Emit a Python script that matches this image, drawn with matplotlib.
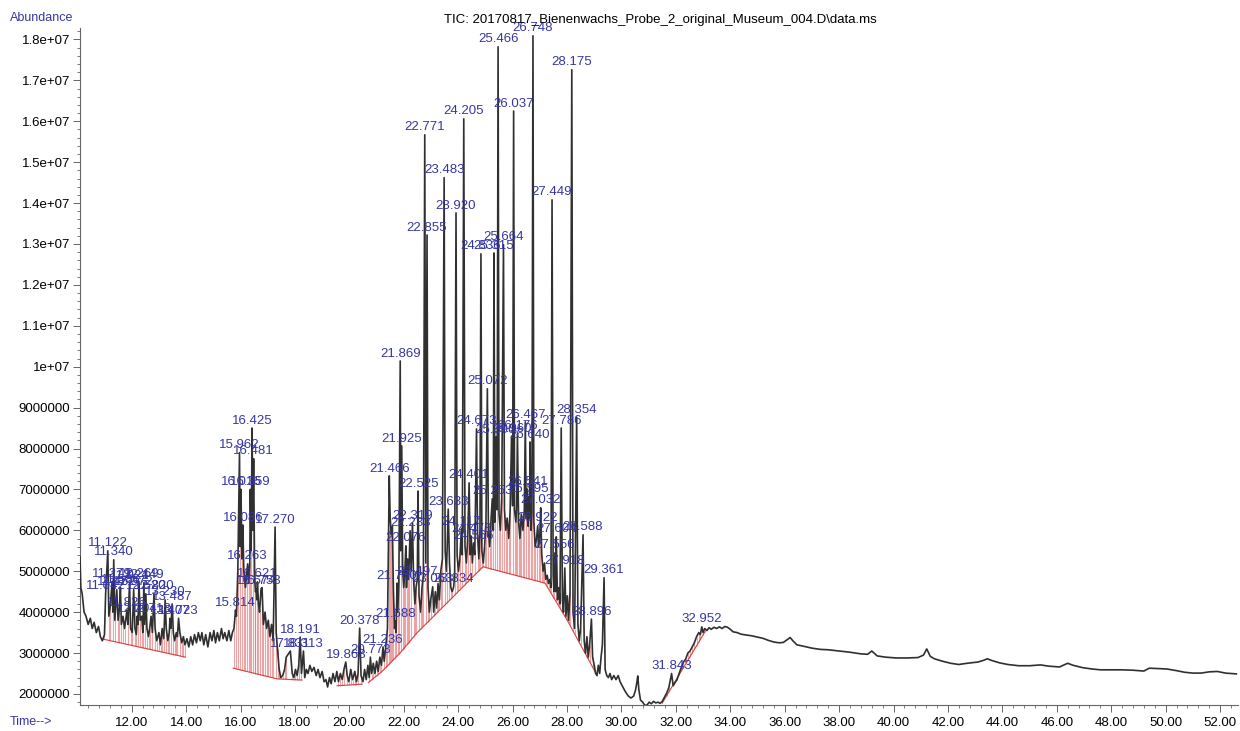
import numpy as np
import matplotlib
matplotlib.use('Agg')
import matplotlib.pyplot as plt
from matplotlib.ticker import MultipleLocator, FixedLocator

plt.rcParams['font.family'] = ['Liberation Sans', 'DejaVu Sans']

# background trace (min, abundance in 1e6)
trace_t = [10.10, 10.13, 10.18, 10.25, 10.32, 10.40, 10.48, 10.55, 10.62, 10.70, 10.78, 10.85, 10.92, 11.00,
           11.16, 11.22, 11.31, 11.38, 11.50, 11.55, 11.62, 11.68, 11.74, 11.86, 11.96, 12.02, 12.12, 12.17,
           12.23, 12.31, 12.37, 12.41, 12.48, 12.56, 12.62, 12.66, 12.76, 12.86, 12.92, 13.00, 13.06, 13.12,
           13.18, 13.27, 13.33, 13.38, 13.44, 13.53, 13.58, 13.64, 13.68, 13.77, 13.84, 13.90, 13.96, 14.03,
           14.10, 14.17, 14.24, 14.31, 14.38, 14.45, 14.52, 14.58, 14.65, 14.72, 14.80, 14.88, 14.95, 15.02,
           15.08, 15.15, 15.22, 15.30, 15.36, 15.42, 15.50, 15.57, 15.64, 15.70, 15.76, 15.85, 15.90, 15.99,
           16.05, 16.12, 16.18, 16.22, 16.30, 16.34, 16.39, 16.45, 16.52, 16.55, 16.60, 16.66, 16.70, 16.79,
           16.84, 16.90, 16.96, 17.02, 17.08, 17.14, 17.20, 17.31, 17.36, 17.42, 17.48, 17.55, 17.62, 17.68,
           17.90, 17.96, 18.02, 18.08, 18.14, 18.24, 18.36, 18.42, 18.48, 18.55, 18.62, 18.70, 18.78, 18.85,
           18.92, 19.00, 19.07, 19.14, 19.20, 19.27, 19.33, 19.40, 19.47, 19.54, 19.60, 19.67, 19.74, 19.80,
           19.92, 19.98, 20.05, 20.12, 20.20, 20.26, 20.32, 20.43, 20.50, 20.56, 20.62, 20.68, 20.73, 20.82,
           20.88, 20.94, 21.00, 21.06, 21.12, 21.18, 21.28, 21.33, 21.40, 21.44, 21.50, 21.54, 21.58, 21.62,
           21.66, 21.72, 21.78, 21.82, 21.89, 21.96, 22.00, 22.04, 22.10, 22.14, 22.18, 22.27, 22.36, 22.41,
           22.45, 22.56, 22.62, 22.67, 22.72, 22.81, 22.89, 22.94, 22.99, 23.10, 23.16, 23.21, 23.26, 23.31,
           23.36, 23.42, 23.52, 23.57, 23.68, 23.73, 23.78, 23.87, 23.96, 24.01, 24.06, 24.15, 24.25, 24.30,
           24.35, 24.44, 24.52, 24.61, 24.71, 24.76, 24.80, 24.87, 24.92, 24.97, 25.02, 25.11, 25.16, 25.21,
           25.29, 25.35, 25.43, 25.50, 25.55, 25.60, 25.70, 25.75, 25.80, 25.86, 25.91, 26.00, 26.07, 26.12,
           26.15, 26.22, 26.27, 26.32, 26.38, 26.43, 26.50, 26.57, 26.62, 26.68, 26.71, 26.78, 26.83, 26.88,
           26.96, 27.00, 27.07, 27.12, 27.17, 27.22, 27.27, 27.32, 27.37, 27.41, 27.49, 27.52, 27.59, 27.65,
           27.70, 27.74, 27.83, 27.87, 27.96, 28.01, 28.06, 28.11, 28.22, 28.28, 28.40, 28.45, 28.50, 28.63,
           28.68, 28.73, 28.78, 28.83, 28.94, 29.00, 29.05, 29.10, 29.15, 29.20, 29.25, 29.30, 29.40, 29.46,
           29.52, 29.58, 29.64, 29.72, 29.80, 29.88, 29.95, 30.05, 30.15, 30.25, 30.35, 30.45, 30.52, 30.57,
           30.60, 30.64, 30.70, 30.78, 30.86, 30.94, 31.02, 31.10, 31.18, 31.26, 31.34, 31.42, 31.50, 31.58,
           31.66, 31.74, 31.90, 31.96, 32.04, 32.12, 32.20, 32.28, 32.36, 32.44, 32.52, 32.60, 32.68, 32.76,
           32.84, 32.90, 33.00, 33.06, 33.14, 33.22, 33.30, 33.40, 33.50, 33.60, 33.70, 33.80, 33.90, 34.00,
           34.10, 34.25, 34.40, 34.60, 34.80, 35.00, 35.20, 35.40, 35.60, 35.80, 35.95, 36.10, 36.20, 36.30,
           36.45, 36.60, 36.80, 37.00, 37.30, 37.60, 38.00, 38.40, 38.80, 39.05, 39.20, 39.40, 39.70, 40.10,
           40.50, 40.90, 41.10, 41.22, 41.35, 41.50, 41.80, 42.10, 42.40, 42.70, 43.10, 43.30, 43.45, 43.60,
           43.90, 44.20, 44.60, 45.00, 45.40, 45.70, 46.10, 46.40, 46.60, 46.97, 47.30, 47.60, 48.00, 48.40,
           48.80, 49.20, 49.40, 49.70, 50.05, 50.40, 50.70, 51.00, 51.30, 51.60, 51.90, 52.20, 52.60]
trace_v = [5.35, 4.60, 4.45, 4.00, 3.90, 3.70, 3.85, 3.60, 3.75, 3.50, 3.65, 3.40, 3.30, 3.45,
           3.90, 4.20, 4.00, 3.80, 3.80, 4.10, 3.70, 3.90, 3.60, 3.70, 3.60, 3.50, 3.60, 3.45,
           3.70, 3.80, 3.90, 3.50, 3.70, 3.60, 3.40, 3.60, 3.50, 3.60, 3.30, 3.50, 3.20, 3.60,
           3.35, 3.60, 3.30, 3.50, 3.60, 3.50, 3.30, 3.50, 3.40, 3.50, 3.25, 3.40, 3.20, 3.35,
           3.15, 3.40, 3.20, 3.45, 3.25, 3.50, 3.30, 3.50, 3.20, 3.45, 3.15, 3.50, 3.30, 3.55,
           3.25, 3.50, 3.30, 3.60, 3.35, 3.50, 3.30, 3.55, 3.30, 3.50, 3.60, 3.90, 5.00, 5.60,
           5.30, 5.00, 4.60, 4.90, 4.70, 5.20, 5.50, 6.00, 4.80, 4.50, 4.30, 4.20, 4.00, 4.60,
           3.70, 4.00, 3.60, 3.80, 3.40, 3.70, 3.30, 3.50, 3.10, 2.60, 2.40, 2.45, 2.60, 2.90,
           2.50, 2.40, 2.60, 2.45, 2.70, 2.50, 2.40, 2.60, 2.50, 2.70, 2.55, 2.65, 2.45, 2.60,
           2.40, 2.55, 2.30, 2.35, 2.17, 2.40, 2.25, 2.50, 2.30, 2.55, 2.30, 2.50, 2.35, 2.60,
           2.45, 2.30, 2.60, 2.35, 2.55, 2.30, 2.50, 2.45, 2.30, 2.60, 2.35, 2.70, 2.40, 2.50,
           2.75, 2.50, 2.80, 2.55, 2.90, 2.70, 2.80, 3.10, 3.60, 6.00, 6.30, 5.90, 6.10, 4.50,
           3.60, 3.50, 4.00, 4.80, 5.50, 5.00, 4.60, 5.00, 4.60, 5.30, 4.80, 5.00, 4.80, 4.20,
           4.60, 4.40, 4.00, 4.60, 4.90, 5.20, 4.60, 4.00, 4.30, 4.00, 4.50, 4.10, 4.70, 4.30,
           5.00, 5.30, 5.50, 5.00, 5.20, 4.60, 4.50, 4.90, 5.40, 5.00, 5.30, 5.40, 5.60, 5.20,
           5.80, 5.40, 5.20, 5.40, 5.90, 5.30, 6.00, 5.50, 5.20, 5.60, 6.20, 6.00, 5.60, 6.30,
           6.00, 6.20, 6.50, 6.40, 6.00, 6.80, 6.50, 6.00, 6.30, 5.80, 6.50, 6.60, 6.50, 6.20,
           6.60, 6.20, 5.80, 6.40, 6.00, 6.50, 6.30, 6.10, 6.30, 6.00, 6.50, 6.20, 5.60, 5.80,
           5.60, 5.90, 5.40, 5.00, 5.20, 4.80, 4.90, 4.70, 4.80, 4.60, 4.90, 4.50, 4.50, 4.30,
           4.60, 4.20, 4.30, 4.00, 3.90, 4.40, 3.80, 4.50, 4.00, 3.60, 3.70, 3.30, 3.60, 3.30,
           3.00, 3.40, 2.90, 3.20, 2.90, 2.70, 2.50, 2.45, 2.70, 2.50, 2.90, 3.20, 2.60, 2.45,
           2.40, 2.50, 2.35, 2.45, 2.35, 2.45, 2.30, 2.17, 2.05, 1.95, 1.90, 1.95, 2.10, 2.30,
           2.44, 2.10, 1.85, 1.80, 1.72, 1.73, 1.80, 1.76, 1.82, 1.78, 1.80, 1.77, 1.82, 1.92,
           2.02, 2.15, 2.20, 2.27, 2.35, 2.50, 2.65, 2.78, 2.85, 3.00, 3.05, 3.15, 3.25, 3.40,
           3.50, 3.45, 3.50, 3.60, 3.55, 3.62, 3.58, 3.63, 3.60, 3.64, 3.60, 3.65, 3.63, 3.58,
           3.52, 3.50, 3.46, 3.44, 3.42, 3.39, 3.36, 3.31, 3.27, 3.25, 3.26, 3.33, 3.38, 3.30,
           3.20, 3.18, 3.15, 3.12, 3.09, 3.08, 3.05, 3.02, 2.98, 2.97, 3.05, 2.93, 2.90, 2.88,
           2.88, 2.89, 2.95, 3.10, 2.92, 2.86, 2.80, 2.75, 2.72, 2.75, 2.78, 2.82, 2.86, 2.82,
           2.76, 2.72, 2.69, 2.69, 2.71, 2.68, 2.66, 2.75, 2.70, 2.64, 2.61, 2.59, 2.59, 2.59,
           2.58, 2.56, 2.63, 2.62, 2.61, 2.57, 2.53, 2.51, 2.51, 2.54, 2.55, 2.51, 2.49]

# integrated peaks: retention time and apex abundance (1e6)
peak_rt = [11.042, 11.122, 11.279, 11.340, 11.452, 11.586, 11.826, 11.921, 12.072, 12.204, 12.269, 12.449,
           12.520, 12.713, 12.820, 13.230, 13.407, 13.487, 13.723,
           15.814, 15.962, 16.016, 16.086, 16.263, 16.359, 16.425, 16.481, 16.574, 16.621, 16.753, 17.270,
           17.831, 18.191, 18.313,
           19.868, 20.378, 20.773, 21.236, 21.466, 21.688, 21.750, 21.869, 21.925, 22.076, 22.233, 22.319,
           22.497, 22.525, 22.771, 22.855, 23.063, 23.483, 23.633, 23.834, 23.920, 24.117, 24.205, 24.401,
           24.478, 24.566, 24.673, 24.836, 25.072, 25.253, 25.315, 25.390, 25.466, 25.664, 25.960, 26.037,
           26.176, 26.467, 26.541, 26.595, 26.640, 26.748, 26.922, 27.032, 27.449, 27.556, 27.604, 27.786,
           27.918, 28.175, 28.354, 28.588, 28.896, 29.361, 31.843, 32.952]
peak_top = [4.45, 5.50, 4.75, 5.28, 4.55, 4.60, 4.05, 4.70, 4.55, 3.90, 4.75, 4.72,
            4.45, 3.90, 4.45, 4.30, 3.85, 4.20, 3.85,
            4.05, 7.90, 7.00, 6.13, 5.18, 7.00, 8.50, 7.75, 4.57, 4.74, 4.57, 6.08,
            3.05, 3.39, 3.05,
            2.78, 3.61, 2.90, 3.15, 7.33, 3.78, 4.71, 10.14, 8.06, 5.62, 5.99, 6.18,
            4.81, 6.96, 15.67, 13.22, 4.62, 14.62, 6.52, 4.62, 13.76, 6.03, 16.06, 7.16,
            5.86, 5.69, 8.48, 12.76, 9.46, 6.77, 12.78, 8.28, 17.82, 12.98, 8.30, 16.25,
            8.36, 8.65, 7.01, 6.82, 8.16, 18.09, 6.11, 6.55, 14.08, 5.45, 5.84, 8.50,
            5.08, 17.26, 8.77, 5.89, 3.83, 4.84, 2.50, 3.64]

# integration baselines (min, abundance in 1e6)
base_t = [[10.95, 13.97],
          [15.73, 17.34, 18.26],
          [19.55, 20.47],
          [20.70, 21.20, 21.86, 22.48, 23.70, 24.43, 24.91, 27.19, 28.00, 29.10],
          [31.50, 33.07]]
base_v = [[3.34, 2.90],
          [2.63, 2.37, 2.34],
          [2.20, 2.24],
          [2.28, 2.55, 3.00, 3.49, 4.30, 4.79, 5.11, 4.71, 3.81, 2.46],
          [1.78, 3.52]]

xtick_vals = list(range(12, 53, 2))
xtick_labels = ['%.2f' % v for v in xtick_vals]
ytick_vals = [2e6, 3e6, 4e6, 5e6, 6e6, 7e6, 8e6, 9e6, 1e7, 1.1e7, 1.2e7, 1.3e7, 1.4e7,
              1.5e7, 1.6e7, 1.7e7, 1.8e7]
ytick_labels = ['2000000', '3000000', '4000000', '5000000', '6000000', '7000000', '8000000',
                '9000000', '1e+07', '1.1e+07', '1.2e+07', '1.3e+07', '1.4e+07', '1.5e+07',
                '1.6e+07', '1.7e+07', '1.8e+07']

blue = '#3636a6'

t = np.array(trace_t + peak_rt)
v = np.array(trace_v + peak_top) * 1e6
order = np.argsort(t)
t, v = t[order], v[order]

fig = plt.figure(figsize=(12.4, 7.31), dpi=100)
ax = fig.add_axes([80 / 1240, 26 / 731, 1158 / 1240, 677 / 731])

# drop lines and baselines of the integration
tt = np.array(trace_t)
vv = np.array(trace_v) * 1e6
for bt, bv in zip(base_t, base_v):
    bv = np.array(bv) * 1e6
    m = (tt >= bt[0]) & (tt <= bt[-1])
    b = np.interp(tt[m], bt, bv)
    ax.vlines(tt[m], b, vv[m], color='#e06a6a', lw=0.8, alpha=0.6, zorder=1)
    ax.plot(bt, bv, color='#d84040', lw=0.8, zorder=2)

ax.plot(t, v, color='#303030', lw=1.2, zorder=3)

for rt, top in zip(peak_rt, peak_top):
    ax.annotate('%.3f' % rt, (rt, top * 1e6), xytext=(0, 1), textcoords='offset points',
                ha='center', va='bottom', fontsize=9.5, color=blue, zorder=4,
                annotation_clip=False)

ax.set_xlim(10.1, 52.66)
ax.set_ylim(1.73e6, 1.828e7)
ax.xaxis.set_major_locator(FixedLocator(xtick_vals))
ax.set_xticklabels(xtick_labels)
ax.xaxis.set_minor_locator(MultipleLocator(0.4))
ax.yaxis.set_major_locator(FixedLocator(ytick_vals))
ax.set_yticklabels(ytick_labels)
ax.yaxis.set_minor_locator(MultipleLocator(2e5))

for s in ['top', 'right']:
    ax.spines[s].set_visible(False)
for s in ['left', 'bottom']:
    ax.spines[s].set_color('#666666')
    ax.spines[s].set_linewidth(0.8)
ax.tick_params(which='major', length=5, width=0.7, color='#666666', labelsize=9.5, pad=2)
ax.tick_params(which='minor', length=2.5, width=0.6, color='#666666')
ax.tick_params(axis='x', pad=4)

fig.text(660 / 1240, 1 - 20 / 731, 'TIC: 20170817_Bienenwachs_Probe_2_original_Museum_004.D\\data.ms',
         ha='center', va='center', fontsize=9.5)
fig.text(10 / 1240, 1 - 18 / 731, 'Abundance', ha='left', va='center', fontsize=9, color=blue)
fig.text(10 / 1240, 1 - 722 / 731, 'Time-->', ha='left', va='center', fontsize=9, color=blue)

fig.savefig('out.png', dpi=100)
